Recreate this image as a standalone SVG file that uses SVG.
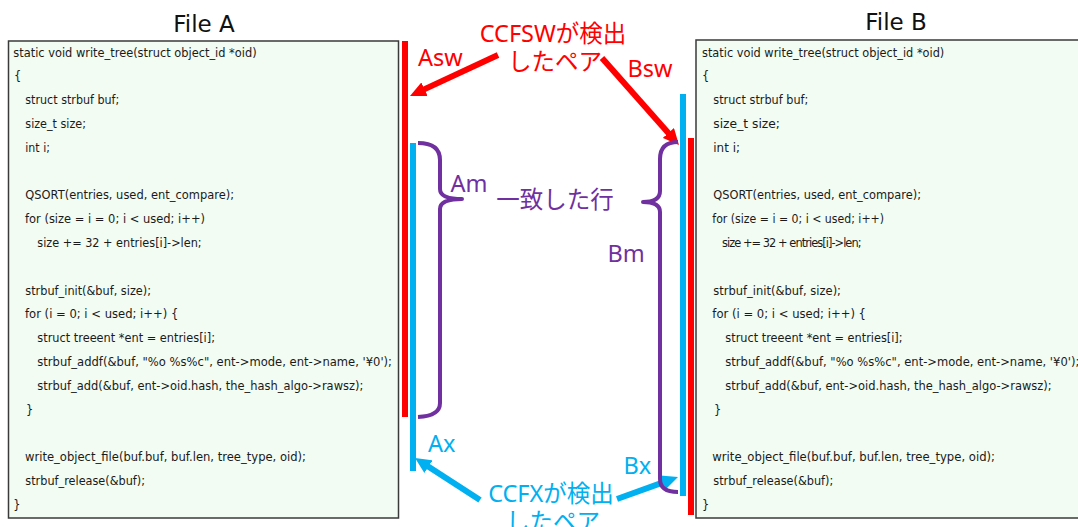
<svg xmlns="http://www.w3.org/2000/svg" width="1078" height="527" viewBox="0 0 1078 527">
<style>
.box{fill:#F2FCF2;stroke:#3a3a3a;stroke-width:1.5}
.code{font-family:"DejaVu Sans",sans-serif;font-size:11.4px;fill:#1a1a1a}
.title{font-family:"DejaVu Sans","Noto Sans",sans-serif;font-size:23px;fill:#111;text-anchor:middle}
.lbl{font-family:"Noto Sans","Noto Sans CJK JP",sans-serif;font-size:23.5px}
.red{fill:#FF0000}
.blue{fill:#00B0F0}
.purple{fill:#7030A0}
.brace{fill:none;stroke:#7030A0;stroke-width:4;stroke-linecap:butt;stroke-linejoin:round}
.arR{stroke:#FF0000;stroke-width:6;fill:none}
.arB{stroke:#00B0F0;stroke-width:6;fill:none}
</style>
<defs>
<marker id="mR" markerUnits="userSpaceOnUse" markerWidth="16" markerHeight="15" refX="4" refY="7.5" orient="auto"><path d="M0,0 L16,7.5 L0,15 z" fill="#FF0000"/></marker>
<marker id="mB" markerUnits="userSpaceOnUse" markerWidth="16" markerHeight="15" refX="4" refY="7.5" orient="auto"><path d="M0,0 L16,7.5 L0,15 z" fill="#00B0F0"/></marker>
</defs>
<rect width="1078" height="527" fill="#FFFFFF"/>

<g id="fileA">
<text class="title" x="204" y="31.5">File A</text>
<rect class="box" x="8.5" y="41" width="390" height="477"/>
<g class="code">
<text x="13.3" y="56.5" textLength="243.3" lengthAdjust="spacingAndGlyphs">static void write_tree(struct object_id *oid)</text>
<text x="14" y="80.3">{</text>
<text x="25.3" y="104.1" textLength="94" lengthAdjust="spacingAndGlyphs">struct strbuf buf;</text>
<text x="25.3" y="127.9" textLength="60.7" lengthAdjust="spacingAndGlyphs">size_t size;</text>
<text x="25.3" y="151.7" textLength="24.7" lengthAdjust="spacingAndGlyphs">int i;</text>
<text x="25.3" y="199.3" textLength="208.7" lengthAdjust="spacingAndGlyphs">QSORT(entries, used, ent_compare);</text>
<text x="25" y="223.1" textLength="180" lengthAdjust="spacingAndGlyphs">for (size = i = 0; i &lt; used; i++)</text>
<text x="37.3" y="246.9" textLength="164.3" lengthAdjust="spacingAndGlyphs">size += 32 + entries[i]-&gt;len;</text>
<text x="25.3" y="294.5" textLength="125.7" lengthAdjust="spacingAndGlyphs">strbuf_init(&amp;buf, size);</text>
<text x="25" y="318.3" textLength="153.3" lengthAdjust="spacingAndGlyphs">for (i = 0; i &lt; used; i++) {</text>
<text x="37.3" y="342.1" textLength="177.7" lengthAdjust="spacingAndGlyphs">struct treeent *ent = entries[i];</text>
<text x="37.3" y="365.9" textLength="354.7" lengthAdjust="spacingAndGlyphs">strbuf_addf(&amp;buf, "%o %s%c", ent-&gt;mode, ent-&gt;name, '¥0');</text>
<text x="37.3" y="389.7" textLength="326" lengthAdjust="spacingAndGlyphs">strbuf_add(&amp;buf, ent-&gt;oid.hash, the_hash_algo-&gt;rawsz);</text>
<text x="26" y="413.5">}</text>
<text x="25" y="461.1" textLength="281" lengthAdjust="spacingAndGlyphs">write_object_file(buf.buf, buf.len, tree_type, oid);</text>
<text x="25.3" y="484.9" textLength="119.7" lengthAdjust="spacingAndGlyphs">strbuf_release(&amp;buf);</text>
<text x="13.3" y="508.7">}</text>
</g>
</g>

<g id="fileB">
<text class="title" x="896" y="29.5">File B</text>
<rect class="box" x="696" y="40" width="400" height="478"/>
<g class="code">
<text x="702" y="56.5" textLength="242.3" lengthAdjust="spacingAndGlyphs">static void write_tree(struct object_id *oid)</text>
<text x="702" y="80.3">{</text>
<text x="713.3" y="104.1" textLength="95" lengthAdjust="spacingAndGlyphs">struct strbuf buf;</text>
<text x="713.3" y="127.9" textLength="66.7" lengthAdjust="spacingAndGlyphs">size_t size;</text>
<text x="713.3" y="151.7" textLength="26.7" lengthAdjust="spacingAndGlyphs">int i;</text>
<text x="713.3" y="199.3" textLength="207.7" lengthAdjust="spacingAndGlyphs">QSORT(entries, used, ent_compare);</text>
<text x="712.3" y="223.1" textLength="171.7" lengthAdjust="spacingAndGlyphs">for (size = i = 0; i &lt; used; i++)</text>
<text x="722" y="246.9" style="letter-spacing:-0.95px">size += 32 + entries[i]-&gt;len;</text>
<text x="713.3" y="294.5" textLength="127.7" lengthAdjust="spacingAndGlyphs">strbuf_init(&amp;buf, size);</text>
<text x="712.3" y="318.3" textLength="153.7" lengthAdjust="spacingAndGlyphs">for (i = 0; i &lt; used; i++) {</text>
<text x="725.3" y="342.1" textLength="177.3" lengthAdjust="spacingAndGlyphs">struct treeent *ent = entries[i];</text>
<text x="725.3" y="365.9" textLength="354" lengthAdjust="spacingAndGlyphs">strbuf_addf(&amp;buf, "%o %s%c", ent-&gt;mode, ent-&gt;name, '¥0');</text>
<text x="725.3" y="389.7" textLength="326.3" lengthAdjust="spacingAndGlyphs">strbuf_add(&amp;buf, ent-&gt;oid.hash, the_hash_algo-&gt;rawsz);</text>
<text x="714" y="413.5">}</text>
<text x="712.3" y="461.1" textLength="282.7" lengthAdjust="spacingAndGlyphs">write_object_file(buf.buf, buf.len, tree_type, oid);</text>
<text x="713.3" y="484.9" textLength="120" lengthAdjust="spacingAndGlyphs">strbuf_release(&amp;buf);</text>
<text x="702" y="508.7">}</text>
</g>
</g>

<g id="bars">
<rect id="bar-Asw" x="402" y="41" width="6" height="376" fill="#FF0000"/>
<rect id="bar-Ax" x="410" y="143" width="6" height="328" fill="#00B0F0"/>
<rect id="bar-Bx" x="680" y="94" width="6" height="402" fill="#00B0F0"/>
<rect id="bar-Bsw" x="688" y="138" width="6" height="377" fill="#FF0000"/>
</g>

<g id="connectors">
<line class="arR" x1="498" y1="55" x2="420.9" y2="90.9" marker-end="url(#mR)"/>
<line class="arR" x1="602" y1="58" x2="671" y2="136" marker-end="url(#mR)"/>
<line class="arB" x1="480" y1="500" x2="425.1" y2="464.5" marker-end="url(#mB)"/>
<line class="arB" x1="617" y1="499" x2="666.7" y2="481.1" marker-end="url(#mB)"/>
</g>

<g id="braces">
<path id="brace-Am" class="brace" d="M418,143 Q440,143 440,160 L440,189 Q440,199 462,199 Q440,199 440,209 L440,403 Q440,416 418,417"/>
<path id="brace-Bm" class="brace" d="M678,142 Q660,142 660,159 L660,191 Q660,202 643,202 Q660,202 660,212 L660,479 Q660,492 678,492"/>
</g>

<g id="labels" class="lbl">
<text class="red" x="418" y="66">Asw</text>
<text class="red" x="627.5" y="76.5">Bsw</text>
<text class="red" x="553" y="42" text-anchor="middle">CCFSWが検出</text>
<text class="red" x="555" y="69.5" text-anchor="middle">したペア</text>
<text class="purple" x="450.5" y="191.5">Am</text>
<text class="purple" x="555" y="208" text-anchor="middle">一致した行</text>
<text class="purple" x="607.5" y="262">Bm</text>
<text class="blue" x="428" y="451.5">Ax</text>
<text class="blue" x="623.5" y="474">Bx</text>
<text class="blue" x="551" y="501.5" text-anchor="middle">CCFXが検出</text>
<text class="blue" x="553" y="529.5" text-anchor="middle">したペア</text>
</g>
</svg>
